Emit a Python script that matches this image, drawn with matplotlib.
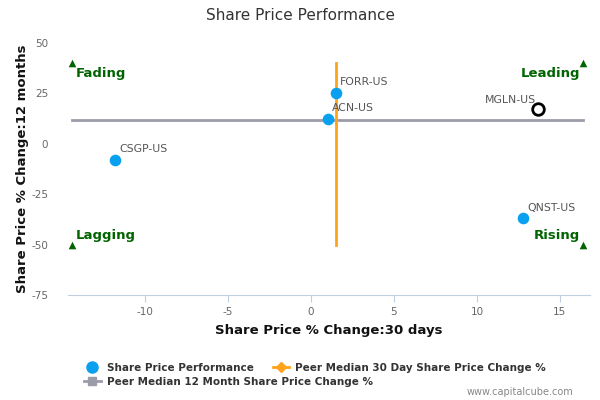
import matplotlib
matplotlib.use("Agg")
import matplotlib.pyplot as plt
from matplotlib.lines import Line2D

tickers = ["FORR-US", "ACN-US", "CSGP-US", "QNST-US"]
x30 = [1.5, 1.0, -11.8, 12.8]
y12 = [25.2, 12.4, -8.0, -37.0]
focus_name = "MGLN-US"
focus_x = 13.7
focus_y = 17.3
median_30d = 1.5
median_12m = 12.0
xticks = [-10, -5, 0, 5, 10, 15]
yticks = [50, 25, 0, -25, -50, -75]
quad_labels = ["Fading", "Leading", "Lagging", "Rising"]
quad_x = [-14.4, 16.4, -14.4, 16.4]
quad_y = [40, 40, -50, -50]

blue = "#0aa0f0"
orange = "#ffa31a"
gray = "#9a9ca8"
green = "#006400"

fig = plt.figure(figsize=(6, 4), dpi=100)
ax = fig.add_axes([0.113, 0.2625, 0.87, 0.63])
ax.set_xlim(-14.65, 16.8)
ax.set_ylim(-75, 50)

# medians
ax.plot([quad_x[0], quad_x[1]], [median_12m, median_12m], color=gray, lw=2, zorder=2)
ax.plot([median_30d, median_30d], [quad_y[0], quad_y[2]], color=orange, lw=2, zorder=2)

ax.scatter(x30, y12, s=70, color=blue, zorder=3, linewidths=0)
for t, xv, yv in zip(tickers, x30, y12):
    ax.annotate(t, (xv, yv), xytext=(3, 4), textcoords="offset points",
                fontsize=7.8, color="#555555", ha="left", va="bottom")
ax.scatter([focus_x], [focus_y], s=70, facecolor="white", edgecolor="black", linewidths=2, zorder=4)
ax.annotate(focus_name, (focus_x, focus_y), xytext=(-2, 3), textcoords="offset points",
            fontsize=7.8, color="#555555", ha="right", va="bottom")

# quadrant markers
ax.scatter(quad_x, quad_y, marker="^", s=30, color=green, zorder=3, linewidths=0)
for lab, xv, yv in zip(quad_labels, quad_x, quad_y):
    right = xv > 0
    dy = -3 if yv > 0 else 2
    ax.annotate(lab, (xv, yv), xytext=(-2 if right else 3, dy), textcoords="offset points",
                fontsize=9.5, fontweight="bold", color=green,
                ha="right" if right else "left", va="top" if yv > 0 else "bottom")

ax.set_xticks(xticks)
ax.set_yticks(yticks)
ax.set_xticklabels([str(v) for v in xticks])
ax.set_yticklabels([str(v) for v in yticks])
ax.tick_params(axis="x", colors="#c0d0e0", labelcolor="#666666", labelsize=7.5, length=5, direction="out")
ax.tick_params(axis="y", length=0, labelcolor="#666666", labelsize=7.5, pad=14)
for s in ["top", "right", "left"]:
    ax.spines[s].set_visible(False)
ax.spines["bottom"].set_color("#c0d0e0")

ax.set_xlabel("Share Price % Change:30 days", fontsize=9.5, fontweight="bold", color="#111111", labelpad=5)
ax.set_ylabel("Share Price % Change:12 months", fontsize=9.5, fontweight="bold", color="#111111", labelpad=2)
fig.text(0.5, 0.96, "Share Price Performance", ha="center", va="center", fontsize=11, color="#333333")

h1 = Line2D([], [], marker="o", color=blue, linestyle="none", markersize=8)
h2 = Line2D([], [], marker="D", color=orange, lw=2, markersize=5)
h3 = Line2D([], [], marker="s", color=gray, lw=2, markersize=6)
leg1 = fig.legend([h1, h2], ["Share Price Performance", "Peer Median 30 Day Share Price Change %"],
                  ncol=2, loc="center left", bbox_to_anchor=(0.14, 0.08), frameon=False,
                  prop={"size": 7.5, "weight": "bold"}, handlelength=1.6, columnspacing=1.8,
                  handletextpad=0.6, borderaxespad=0, borderpad=0)
for t in leg1.get_texts():
    t.set_color("#333333")
leg2 = fig.legend([h3], ["Peer Median 12 Month Share Price Change %"],
                  loc="center left", bbox_to_anchor=(0.14, 0.045), frameon=False,
                  prop={"size": 7.5, "weight": "bold"}, handlelength=1.6, handletextpad=0.6,
                  borderaxespad=0, borderpad=0)
for t in leg2.get_texts():
    t.set_color("#333333")
fig.text(0.955, 0.02, "www.capitalcube.com", ha="right", va="center", fontsize=7, color="#888888")

fig.savefig("out.png", dpi=100)
